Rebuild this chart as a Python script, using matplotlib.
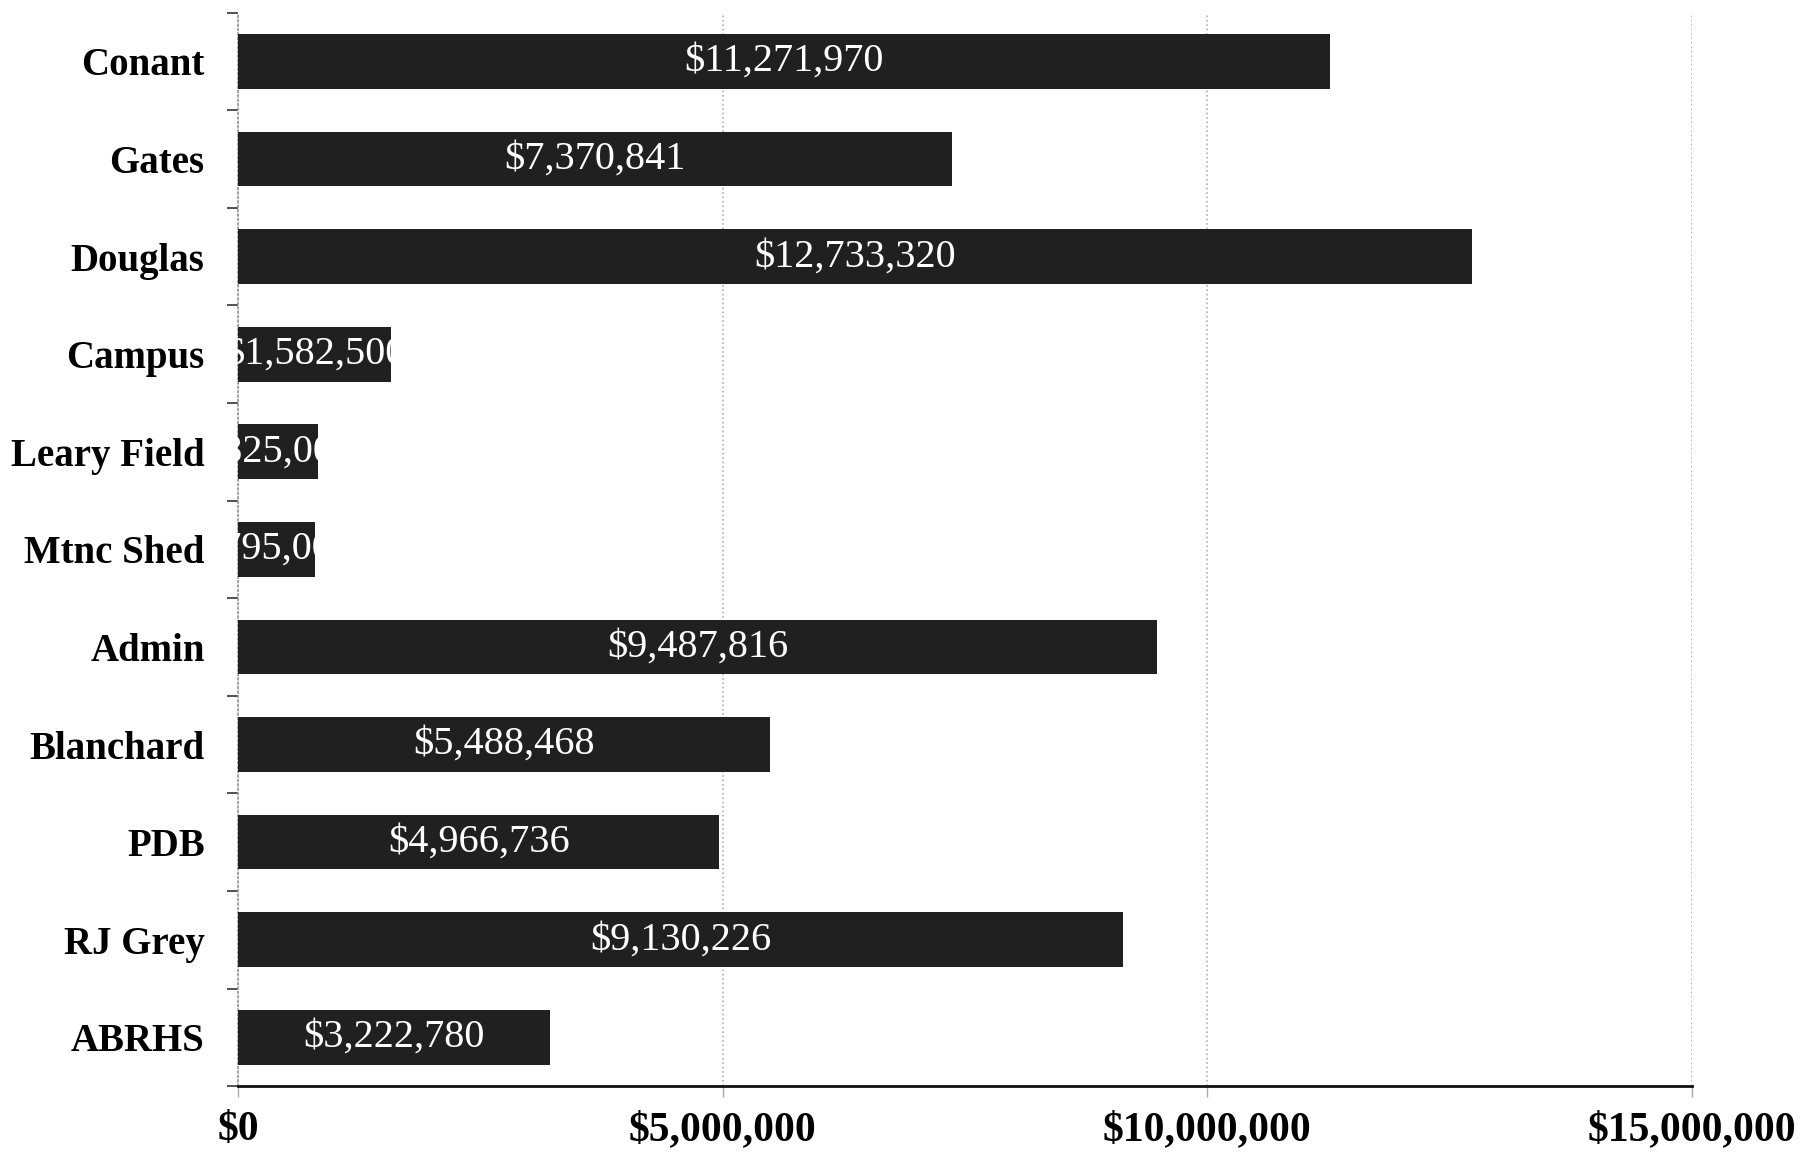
import matplotlib.pyplot as plt
from matplotlib.ticker import FuncFormatter, FixedLocator

# building names, top to bottom
buildings = ['Conant', 'Gates', 'Douglas', 'Campus', 'Leary Field', 'Mtnc Shed',
             'Admin', 'Blanchard', 'PDB', 'RJ Grey', 'ABRHS']
costs = [11271970, 7370841, 12733320, 1582500, 825000, 795000,
         9487816, 5488468, 4966736, 9130226, 3222780]
xticks = [0, 5000000, 10000000, 15000000]

fig = plt.figure(figsize=(18.17, 11.53), dpi=100)
ax = fig.add_axes([0.131, 0.058, 0.80, 0.931])

ypos = list(range(len(buildings)))
bars = ax.barh(ypos, costs, height=0.56, color='#202020', zorder=3)

ax.set_ylim(len(buildings) - 0.5, -0.5)
ax.set_xlim(0, 15000000)

# value labels, clipped to their bar like the original
for bar, val in zip(bars, costs):
    t = ax.text(bar.get_width() / 2, bar.get_y() + bar.get_height() / 2,
                '${:,}'.format(val), color='white', ha='center', va='center',
                fontsize=29, family='Liberation Serif', zorder=4)
    t.set_clip_path(bar)

ax.set_yticks(ypos)
ax.set_yticklabels(buildings, fontsize=28, fontweight='bold', family='Liberation Serif')
ax.tick_params(axis='y', which='major', length=0, pad=24)
ax.yaxis.set_minor_locator(FixedLocator([i + 0.5 for i in range(-1, len(buildings))]))
ax.tick_params(axis='y', which='minor', length=8, width=1.2, color='#333333', direction='out')

ax.set_xticks(xticks)
ax.xaxis.set_major_formatter(FuncFormatter(lambda v, p: '${:,.0f}'.format(v)))
for lab in ax.get_xticklabels():
    lab.set_fontsize(30)
    lab.set_fontweight('bold')
    lab.set_family('Liberation Serif')
ax.tick_params(axis='x', length=8, width=1, color='#aaaaaa', pad=10)

ax.grid(axis='x', color='#b0b0b0', linestyle=':', linewidth=1.2, zorder=0)

for s in ['top', 'right']:
    ax.spines[s].set_visible(False)
ax.spines['left'].set_color('#999999')
ax.spines['left'].set_linestyle(':')
ax.spines['left'].set_linewidth(1.2)
ax.spines['bottom'].set_color('#111111')
ax.spines['bottom'].set_linewidth(2)

plt.savefig('out.png', dpi=100)
